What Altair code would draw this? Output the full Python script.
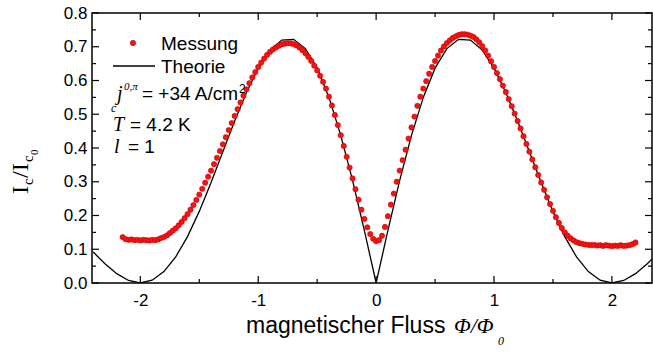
import altair as alt
import pandas as pd

# ---------------- data ----------------
meas_x = [
    -2.150, -2.125, -2.100, -2.075, -2.050, -2.025, -2.000, -1.975, -1.950, -1.925,
    -1.900, -1.875, -1.850, -1.825, -1.800, -1.775, -1.750, -1.725, -1.700, -1.675,
    -1.650, -1.625, -1.600, -1.575, -1.550, -1.525, -1.500, -1.475, -1.450, -1.425,
    -1.400, -1.375, -1.350, -1.325, -1.300, -1.275, -1.250, -1.225, -1.200, -1.175,
    -1.150, -1.125, -1.100, -1.075, -1.050, -1.025, -1.000, -0.975, -0.950, -0.925,
    -0.900, -0.875, -0.850, -0.825, -0.800, -0.775, -0.750, -0.725, -0.700, -0.675,
    -0.650, -0.625, -0.600, -0.575, -0.550, -0.525, -0.500, -0.475, -0.450, -0.425,
    -0.400, -0.375, -0.350, -0.325, -0.300, -0.275, -0.250, -0.225, -0.200, -0.175,
    -0.150, -0.125, -0.100, -0.075, -0.050, -0.025, 0.000, 0.025, 0.050, 0.075,
    0.100, 0.125, 0.150, 0.175, 0.200, 0.225, 0.250, 0.275, 0.300, 0.325,
    0.350, 0.375, 0.400, 0.425, 0.450, 0.475, 0.500, 0.525, 0.550, 0.575,
    0.600, 0.625, 0.650, 0.675, 0.700, 0.725, 0.750, 0.775, 0.800, 0.825,
    0.850, 0.875, 0.900, 0.925, 0.950, 0.975, 1.000, 1.025, 1.050, 1.075,
    1.100, 1.125, 1.150, 1.175, 1.200, 1.225, 1.250, 1.275, 1.300, 1.325,
    1.350, 1.375, 1.400, 1.425, 1.450, 1.475, 1.500, 1.525, 1.550, 1.575,
    1.600, 1.625, 1.650, 1.675, 1.700, 1.725, 1.750, 1.775, 1.800, 1.825,
    1.850, 1.875, 1.900, 1.925, 1.950, 1.975, 2.000, 2.025, 2.050, 2.075,
    2.100, 2.125, 2.150, 2.175, 2.200,
]
meas_y = [
    0.136, 0.130, 0.128, 0.129, 0.127, 0.128, 0.126, 0.128, 0.127, 0.126,
    0.128, 0.127, 0.129, 0.133, 0.136, 0.141, 0.148, 0.155, 0.162, 0.171,
    0.181, 0.192, 0.204, 0.217, 0.231, 0.246, 0.262, 0.279, 0.297, 0.315,
    0.333, 0.352, 0.371, 0.391, 0.411, 0.432, 0.453, 0.474, 0.495, 0.515,
    0.535, 0.555, 0.574, 0.592, 0.609, 0.625, 0.640, 0.653, 0.665, 0.676,
    0.685, 0.692, 0.698, 0.703, 0.707, 0.709, 0.711, 0.710, 0.708, 0.704,
    0.698, 0.690, 0.681, 0.670, 0.658, 0.644, 0.630, 0.614, 0.596, 0.576,
    0.552, 0.526, 0.498, 0.468, 0.438, 0.406, 0.374, 0.342, 0.310, 0.278,
    0.247, 0.217, 0.190, 0.165, 0.145, 0.131, 0.124, 0.127, 0.140, 0.166,
    0.198, 0.232, 0.265, 0.300, 0.333, 0.364, 0.395, 0.428, 0.461, 0.493,
    0.525, 0.552, 0.576, 0.598, 0.620, 0.640, 0.658, 0.674, 0.689, 0.701,
    0.711, 0.719, 0.726, 0.731, 0.735, 0.737, 0.737, 0.736, 0.733, 0.729,
    0.722, 0.713, 0.702, 0.689, 0.674, 0.657, 0.640, 0.622, 0.604, 0.585,
    0.566, 0.545, 0.524, 0.502, 0.480, 0.458, 0.435, 0.412, 0.389, 0.366,
    0.343, 0.320, 0.298, 0.276, 0.254, 0.234, 0.214, 0.195, 0.178, 0.163,
    0.150, 0.140, 0.132, 0.126, 0.121, 0.118, 0.116, 0.114, 0.113, 0.112,
    0.113, 0.111, 0.112, 0.110, 0.112, 0.111, 0.109, 0.111, 0.110, 0.112,
    0.110, 0.111, 0.112, 0.115, 0.120,
]
theo_x = [
    -2.4, -2.3, -2.2, -2.1, -2.0, -1.9, -1.8, -1.7, -1.6, -1.5, -1.4, -1.3, -1.2,
    -1.1, -1.0, -0.9, -0.8, -0.7, -0.6, -0.5, -0.4, -0.3, -0.2, -0.1, 0.0,
    0.1, 0.2, 0.3, 0.4, 0.5, 0.6, 0.7, 0.8, 0.9, 1.0, 1.1, 1.2,
    1.3, 1.4, 1.5, 1.6, 1.7, 1.8, 1.9, 2.0, 2.1, 2.2, 2.3, 2.4,
]
theo_y = [
    0.0917, 0.0571, 0.0276, 0.0074, 0.0, 0.0082, 0.0338, 0.0772, 0.1375, 0.2122,
    0.2976, 0.3888, 0.4799, 0.5646, 0.6366, 0.6900, 0.7198, 0.7220, 0.6945, 0.6366,
    0.5499, 0.4374, 0.3040, 0.1558, 0.0,
    0.1558, 0.3040, 0.4374, 0.5499, 0.6366, 0.6945, 0.7220, 0.7198, 0.6900, 0.6366,
    0.5646, 0.4799, 0.3888, 0.2976, 0.2122, 0.1375, 0.0772, 0.0338, 0.0082, 0.0,
    0.0074, 0.0276, 0.0571, 0.0917,
]
x_ticks = [-2, -1, 0, 1, 2]
x_minor = [-1.5, -0.5, 0.5, 1.5]
y_ticks = [0.0, 0.1, 0.2, 0.3, 0.4, 0.5, 0.6, 0.7, 0.8]
y_minor = [0.05, 0.15, 0.25, 0.35, 0.45, 0.55, 0.65, 0.75]

# ---------------- layout ----------------
W, H = 560, 270
MAJ, MIN = 7, 4
SANS = "Liberation Sans"
SERIF = "Liberation Serif"

xs = alt.Scale(domain=[-2.41, 2.34], nice=False, zero=False)
ys = alt.Scale(domain=[0.0, 0.8], nice=False, zero=False)

meas = pd.DataFrame({"x": meas_x, "y": meas_y})
theo = pd.DataFrame({"x": theo_x, "y": theo_y})
one = pd.DataFrame({"x": [0.0], "y": [0.4]})
xt_major = pd.DataFrame({"x": x_ticks})
xt_minor = pd.DataFrame({"x": x_minor})
yt_major = pd.DataFrame({"y": y_ticks})
yt_minor = pd.DataFrame({"y": y_minor})

AX_X = alt.Axis(title=None, grid=False, domain=False, ticks=False, tickSize=0, values=x_ticks,
                labelExpr="'' + datum.value", labelPadding=9, labelOverlap=False,
                labelFlush=False, labelFont=SANS, labelFontSize=17, labelColor="black")
AX_Y = alt.Axis(title=None, grid=False, domain=False, ticks=False, tickSize=0, values=y_ticks,
                labelExpr="format(datum.value, '.1f')", labelPadding=5, labelOverlap=False,
                labelFlush=False, labelFont=SANS, labelFontSize=17, labelColor="black")


def X(field="x"):
    return alt.X(f"{field}:Q", scale=xs, axis=AX_X)


def Y(field="y"):
    return alt.Y(f"{field}:Q", scale=ys, axis=AX_Y)


theory = alt.Chart(theo).mark_line(color="black", strokeWidth=1.3, clip=True).encode(
    x=X(), y=Y())

points = alt.Chart(meas).mark_circle(color="#ff1010", size=28, opacity=1,
                                     stroke="#c00000", strokeWidth=0.6).encode(x=X(), y=Y())


def xtick(df, y0, y1):
    return alt.Chart(df).mark_rule(color="black", strokeWidth=1.2).encode(
        x=X(), y=alt.value(y0), y2=alt.value(y1))


def ytick(df, x0, x1):
    return alt.Chart(df).mark_rule(color="black", strokeWidth=1.2).encode(
        y=Y(), x=alt.value(x0), x2=alt.value(x1))


ticks = [
    xtick(xt_major, H, H - MAJ), xtick(xt_minor, H, H - MIN),
    xtick(xt_major, 0, MAJ), xtick(xt_minor, 0, MIN),
    ytick(yt_major, 0, MAJ), ytick(yt_minor, 0, MIN),
    ytick(yt_major, W, W - MAJ), ytick(yt_minor, W, W - MIN),
]


def label(text, x, y, size, font=SANS, style="normal", angle=0):
    return alt.Chart(one).mark_text(text=text, font=font, fontSize=size, fontStyle=style,
                                    angle=angle, align="left", baseline="alphabetic",
                                    color="black").encode(x=alt.value(x), y=alt.value(y))


leg_pt = alt.Chart(one).mark_circle(color="#ff1010", size=28, opacity=1, stroke="#c00000",
                                    strokeWidth=0.6).encode(x=alt.value(41), y=alt.value(30))
leg_ln = alt.Chart(one).mark_rule(color="black", strokeWidth=1.3).encode(
    x=alt.value(21), x2=alt.value(63), y=alt.value(53))

texts = [
    label("Messung", 69, 37, 19),
    label("Theorie", 69, 60, 19),
    label("j", 25, 87, 20, SERIF, "italic"),
    label("c", 19, 99, 12, SERIF, "italic"),
    label("0,π", 32, 77, 11, SERIF, "italic"),
    label("= +34 A/cm", 50, 87, 19),
    label("2", 147, 80, 12),
    label("T", 21, 118, 20, SERIF, "italic"),
    label("= 4.2 K", 38, 118, 19),
    label("l", 22, 140, 20, SERIF, "italic"),
    label("= 1", 36, 140, 19),
    # x-axis title
    label("magnetischer Fluss", 154, 320, 23),
    label("Φ/Φ", 362, 320, 22, SERIF, "italic"),
    label("0", 406, 332, 12, SERIF, "italic"),
    # y-axis title (rotated)
    label("I", -64, 181, 24, SERIF, "normal", 270),
    label("c", -59, 172, 15, SERIF, "normal", 270),
    label("/I", -64, 165, 24, SERIF, "normal", 270),
    label("c", -59, 149, 15, SERIF, "normal", 270),
    label("0", -54, 142, 11, SERIF, "normal", 270),
]

chart = alt.layer(theory, points, *ticks, leg_ln, leg_pt, *texts).properties(
    width=W, height=H,
    autosize=alt.AutoSizeParams(type="none"),
    padding={"left": 92, "top": 13, "right": 1, "bottom": 72},
).configure_view(stroke="black", strokeWidth=1.5)

chart.save("out.html", embed_options={"renderer": "svg", "actions": False})
